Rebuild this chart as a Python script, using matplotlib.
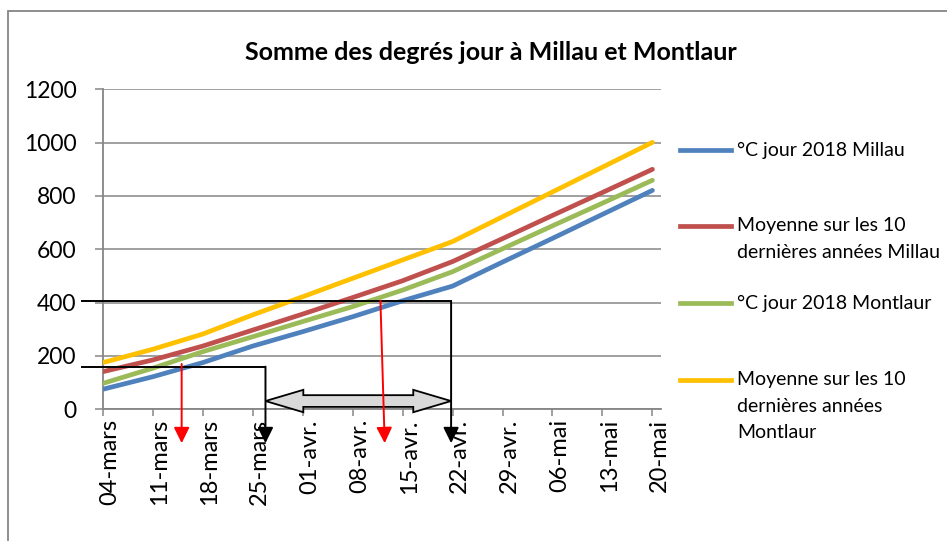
import matplotlib
matplotlib.use("Agg")
import matplotlib.pyplot as plt
from matplotlib.lines import Line2D
from matplotlib.patches import Polygon, Rectangle
import matplotlib.transforms as mtransforms

plt.rcParams["font.family"] = ["Lato", "DejaVu Sans"]

# ── données (sommes cumulées, relevé hebdomadaire) ─────────────────
jours = [0, 7, 14, 21, 28, 35, 42, 49, 56, 63, 70, 77]
dates = ["04-mars", "11-mars", "18-mars", "25-mars", "01-avr.", "08-avr.",
         "15-avr.", "22-avr.", "29-avr.", "06-mai", "13-mai", "20-mai"]

millau_2018 = [75, 122, 175, 237, 291, 347, 407, 462, 552, 641, 731, 821]
millau_moy = [141, 185, 237, 297, 357, 419, 482, 554, 640, 727, 813, 900]
montlaur_2018 = [97, 154, 216, 272, 329, 385, 447, 516, 602, 688, 773, 859]
montlaur_moy = [175, 225, 282, 354, 422, 491, 560, 629, 722, 815, 908, 1001]

noms = ["°C jour 2018 Millau",
        "Moyenne sur les 10\ndernières années Millau",
        "°C jour 2018 Montlaur",
        "Moyenne sur les 10\ndernières années\nMontlaur"]
couleurs = ["#4F81BD", "#C0504D", "#9BBB59", "#FFC000"]
series = [millau_2018, millau_moy, montlaur_2018, montlaur_moy]

yticks = [0, 200, 400, 600, 800, 1000, 1200]

W, H = 947, 541
fig = plt.figure(figsize=(W / 100, H / 100), dpi=100)
ax = fig.add_axes([102.7 / W, 1 - 409.3 / H, (661 - 102.7) / W, (409.3 - 89.3) / H])

gris = "#868686"
for s, c in zip(series, couleurs):
    ax.plot(jours, s, color=c, lw=3.4, solid_capstyle="round", zorder=3)

ax.set_xlim(0, 78.2)
ax.set_ylim(0, 1200)
ax.set_yticks(yticks)
ax.set_yticklabels([str(v) for v in yticks], fontsize=16.5)
ax.set_xticks(jours)
ax.set_xticklabels(dates, rotation=90, fontsize=17, va="top", ha="center")
ax.grid(axis="y", color=gris, lw=1.1)
ax.set_axisbelow(True)
for sp in ["top", "right"]:
    ax.spines[sp].set_visible(False)
for sp in ["left", "bottom"]:
    ax.spines[sp].set_color(gris)
    ax.spines[sp].set_linewidth(1.3)
ax.tick_params(axis="y", direction="out", length=5.8, width=1.1, color=gris, pad=13)
ax.tick_params(axis="x", direction="out", length=5, width=1.1, color=gris, pad=2)
off = mtransforms.ScaledTranslation(5 / 72, 0, fig.dpi_scale_trans)
for lab in ax.get_xticklabels():
    lab.set_transform(lab.get_transform() + off)

# ── annotations (flèches) ─────────────────────────────────────────
y_tip = -127
# lignes noires en L
for y_h, x_c in [(160, 22.8), (405, 48.8)]:
    ax.plot([-2.9, x_c], [y_h, y_h], color="black", lw=1.4, clip_on=False, zorder=4)
    ax.annotate("", xy=(x_c, y_tip), xytext=(x_c, y_h), annotation_clip=False,
                arrowprops=dict(arrowstyle="-|>,head_length=0.95,head_width=0.47",
                                color="black", lw=1.4, shrinkA=0, shrinkB=0,
                                mutation_scale=10), zorder=4)
# flèches rouges
for (xa, ya), xb in [((11.06, 170), 11.06), ((38.9, 407), 39.5)]:
    ax.annotate("", xy=(xb, y_tip), xytext=(xa, ya), annotation_clip=False,
                arrowprops=dict(arrowstyle="-|>,head_length=0.95,head_width=0.47",
                                color="red", lw=1.4, shrinkA=0, shrinkB=0,
                                mutation_scale=10), zorder=5)
# double flèche grise
x0, x1, yc = 22.8, 48.8, 31
hl, hh, sh = 5.3, 42, 22
pts = [(x0, yc), (x0 + hl, yc + hh), (x0 + hl, yc + sh), (x1 - hl, yc + sh),
       (x1 - hl, yc + hh), (x1, yc), (x1 - hl, yc - hh), (x1 - hl, yc - sh),
       (x0 + hl, yc - sh), (x0 + hl, yc - hh)]
ax.add_patch(Polygon(pts, closed=True, facecolor="#D9D9D9", edgecolor="black",
                     lw=1.3, clip_on=False, zorder=4))

# ── légende ───────────────────────────────────────────────────────
y_leg = [150, 226, 303, 380]
for nom, c, yp in zip(noms, couleurs, y_leg):
    fig.add_artist(Line2D([680 / W, 731 / W], [1 - yp / H, 1 - yp / H],
                          color=c, lw=3.4))
    for k, ligne in enumerate(nom.split("\n")):
        fig.text(737 / W, 1 - (yp + 26 * k) / H, ligne, fontsize=14,
                 va="center", ha="left")

fig.text(490.5 / W, 1 - 53 / H, "Somme des degrés jour à Millau et Montlaur",
         fontsize=18, fontweight="bold", ha="center", va="center")

# cadre
fig.add_artist(Rectangle((8 / W, -0.1), 1.2, 1.1 - 11 / H, transform=fig.transFigure,
                         fill=False, edgecolor=gris, lw=1.3))

fig.savefig("out.png", dpi=100)
